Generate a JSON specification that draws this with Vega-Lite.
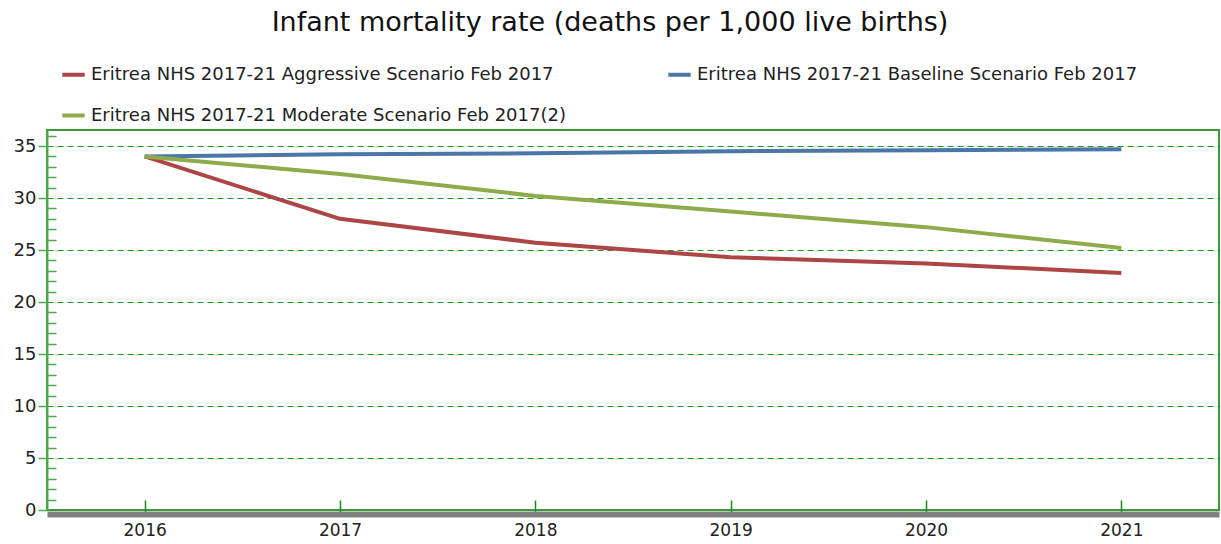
{
  "$schema": "https://vega.github.io/schema/vega-lite/v6.json",
  "autosize": "none",
  "width": 1172,
  "height": 380,
  "padding": {"left": 47, "top": 130, "right": 2, "bottom": 34},
  "background": "white",
  "title": {
    "text": "Infant mortality rate (deaths per 1,000 live births)",
    "font": "DejaVu Sans",
    "fontSize": 27,
    "fontWeight": "normal",
    "color": "#111111",
    "anchor": "middle",
    "dx": -23,
    "offset": 24
  },
  "config": {
    "view": {"stroke": "#3a9a3a", "strokeWidth": 2},
    "font": "DejaVu Sans"
  },
  "data": {
    "values": [
      {"year": 2016, "series": "Eritrea NHS 2017-21 Aggressive Scenario Feb 2017", "value": 34.0},
      {"year": 2017, "series": "Eritrea NHS 2017-21 Aggressive Scenario Feb 2017", "value": 28.0},
      {"year": 2018, "series": "Eritrea NHS 2017-21 Aggressive Scenario Feb 2017", "value": 25.7},
      {"year": 2019, "series": "Eritrea NHS 2017-21 Aggressive Scenario Feb 2017", "value": 24.3},
      {"year": 2020, "series": "Eritrea NHS 2017-21 Aggressive Scenario Feb 2017", "value": 23.7},
      {"year": 2021, "series": "Eritrea NHS 2017-21 Aggressive Scenario Feb 2017", "value": 22.8},
      {"year": 2016, "series": "Eritrea NHS 2017-21 Baseline Scenario Feb 2017", "value": 34.0},
      {"year": 2017, "series": "Eritrea NHS 2017-21 Baseline Scenario Feb 2017", "value": 34.2},
      {"year": 2018, "series": "Eritrea NHS 2017-21 Baseline Scenario Feb 2017", "value": 34.3},
      {"year": 2019, "series": "Eritrea NHS 2017-21 Baseline Scenario Feb 2017", "value": 34.5},
      {"year": 2020, "series": "Eritrea NHS 2017-21 Baseline Scenario Feb 2017", "value": 34.6},
      {"year": 2021, "series": "Eritrea NHS 2017-21 Baseline Scenario Feb 2017", "value": 34.7},
      {"year": 2016, "series": "Eritrea NHS 2017-21 Moderate Scenario Feb 2017(2)", "value": 34.0},
      {"year": 2017, "series": "Eritrea NHS 2017-21 Moderate Scenario Feb 2017(2)", "value": 32.3},
      {"year": 2018, "series": "Eritrea NHS 2017-21 Moderate Scenario Feb 2017(2)", "value": 30.2},
      {"year": 2019, "series": "Eritrea NHS 2017-21 Moderate Scenario Feb 2017(2)", "value": 28.7},
      {"year": 2020, "series": "Eritrea NHS 2017-21 Moderate Scenario Feb 2017(2)", "value": 27.2},
      {"year": 2021, "series": "Eritrea NHS 2017-21 Moderate Scenario Feb 2017(2)", "value": 25.2}
    ]
  },
  "mark": {"type": "line", "strokeWidth": 4, "clip": true},
  "encoding": {
    "x": {
      "field": "year",
      "type": "quantitative",
      "scale": {"domain": [2015.5, 2021.5], "nice": false, "zero": false},
      "axis": {
        "title": null,
        "values": [2016, 2017, 2018, 2019, 2020, 2021],
        "format": "d",
        "grid": false,
        "offset": 4,
        "domainColor": "#808080",
        "domainWidth": 6,
        "tickColor": "#1a8a1a",
        "tickWidth": 1.5,
        "tickSize": -14,
        "labelPadding": 22,
        "labelFont": "DejaVu Sans",
        "labelFontSize": 17,
        "labelColor": "#222222"
      }
    },
    "y": {
      "field": "value",
      "type": "quantitative",
      "scale": {"domain": [0, 36.54], "nice": false},
      "axis": {
        "title": null,
        "values": [0,1,2,3,4,5,6,7,8,9,10,11,12,13,14,15,16,17,18,19,20,21,22,23,24,25,26,27,28,29,30,31,32,33,34,35,36],
        "labelExpr": "datum.value % 5 === 0 ? datum.label : ''",
        "domainColor": "#4caa4c",
        "domainWidth": 2,
        "tickColor": "#4caa4c",
        "tickWidth": 1.5,
        "tickSize": {"condition": {"test": "datum.value % 5 === 0", "value": 9}, "value": -9},
        "labelPadding": 2,
        "labelFont": "DejaVu Sans",
        "labelFontSize": 18,
        "labelColor": "#222222",
        "grid": true,
        "gridColor": "#1f9a1f",
        "gridDash": [6, 4],
        "gridWidth": 1,
        "gridOpacity": {"condition": {"test": "datum.value % 5 === 0 && datum.value > 0", "value": 1}, "value": 0}
      }
    },
    "color": {
      "field": "series",
      "type": "nominal",
      "scale": {
        "domain": [
          "Eritrea NHS 2017-21 Aggressive Scenario Feb 2017",
          "Eritrea NHS 2017-21 Baseline Scenario Feb 2017",
          "Eritrea NHS 2017-21 Moderate Scenario Feb 2017(2)"
        ],
        "range": ["#ad4545", "#4a76a8", "#8faa4a"]
      },
      "legend": {
        "title": null,
        "orient": "none",
        "legendX": 13,
        "legendY": -69,
        "direction": "horizontal",
        "columns": 2,
        "columnPadding": 94,
        "rowPadding": 18,
        "symbolType": "stroke",
        "symbolStrokeWidth": 4,
        "symbolSize": 500,
        "labelFont": "DejaVu Sans",
        "labelFontSize": 18,
        "labelColor": "#222222",
        "labelLimit": 600
      }
    }
  }
}
